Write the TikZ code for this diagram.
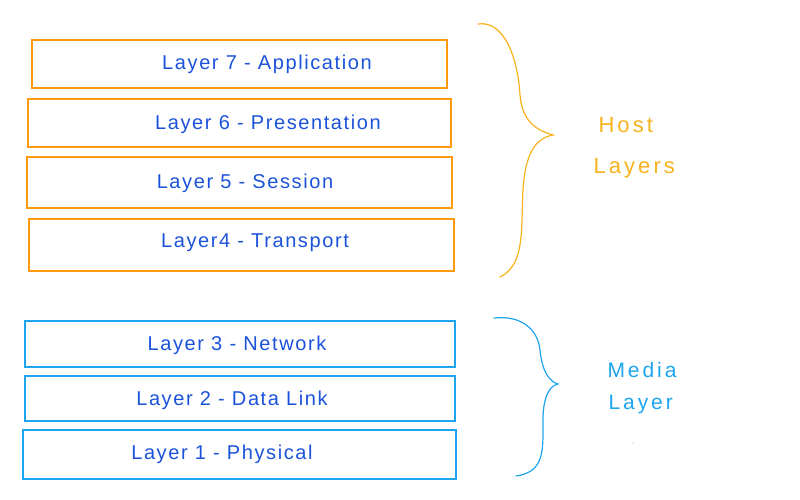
\documentclass[tikz,border=0pt]{standalone}
\usepackage{fontspec}
\setmainfont{Liberation Sans}
\newfontfamily\handfont[LetterSpace=8]{Liberation Sans}
\newfontfamily\sidefont[LetterSpace=14]{Liberation Sans}
\definecolor{boxorange}{HTML}{FF9A0E}
\definecolor{braceorange}{HTML}{F7B21C}
\definecolor{boxblue}{HTML}{1EA5F0}
\definecolor{inkblue}{HTML}{1B52DA}
\begin{document}
\begin{tikzpicture}[x=1pt,y=-1pt,
  hostbox/.style={draw=boxorange,line width=1.6pt,inner sep=0pt},
  mediabox/.style={draw=boxblue,line width=1.6pt,inner sep=0pt},
  laytext/.style={text=inkblue,font=\handfont\fontsize{20}{24}\selectfont},
  hosttext/.style={text=braceorange,font=\sidefont\fontsize{22}{26}\selectfont,align=left},
  mediatext/.style={text=boxblue,font=\sidefont\fontsize{21}{25}\selectfont,align=left},
  brace/.style={line width=1.2pt,line cap=round}]
\useasboundingbox (0,0) rectangle (800,500);
% host boxes
\node[hostbox,minimum width=415pt,minimum height=48pt] (b7) at (239.5,64) {};
\node[hostbox,minimum width=423pt,minimum height=48pt] (b6) at (239.5,123) {};
\node[hostbox,minimum width=425pt,minimum height=51pt] (b5) at (239.5,182.5) {};
\node[hostbox,minimum width=425pt,minimum height=52pt] (b4) at (241.5,245) {};
% media boxes
\node[mediabox,minimum width=430pt,minimum height=46pt] (b3) at (240,344) {};
\node[mediabox,minimum width=430pt,minimum height=45pt] (b2) at (240,398.5) {};
\node[mediabox,minimum width=433pt,minimum height=49pt] (b1) at (239.5,454.5) {};
% labels
\node[laytext] (t7) at (267,64) {Layer 7 - Application};
\node[laytext] (t6) at (268,124) {Layer 6 - Presentation};
\node[laytext] (t5) at (245,183) {Layer 5 -  Session};
\node[laytext] (t4) at (255,243) {Layer4 - Transport};
\node[laytext] (t3) at (237,345) {Layer 3 - Network};
\node[laytext] (t2) at (232,400) {Layer 2 - Data Link};
\node[laytext] (t1) at (222,454) {Layer 1 - Physical};
% braces
\coordinate (h1) at (478,24);
\coordinate (hm) at (553,135);
\coordinate (h2) at (500,277);
\draw[brace,braceorange] (h1) .. controls (505,20) and (518,60) .. (520,95)
  .. controls (522,120) and (535,130) .. (hm)
  .. controls (535,138) and (525,155) .. (523,190)
  .. controls (521,230) and (525,265) .. (h2);
\coordinate (m1) at (494,318);
\coordinate (mm) at (558,384);
\coordinate (m2) at (516,476);
\draw[brace,boxblue] (m1) .. controls (522,315) and (538,330) .. (540,350)
  .. controls (542,372) and (550,382) .. (mm)
  .. controls (548,386) and (543,400) .. (543,420)
  .. controls (543,450) and (545,472) .. (m2);
\node[hosttext,anchor=west] (host) at (595,125) {Host};
\node[hosttext,anchor=west] (hostl) at (590,168) {Layers};
\node[mediatext,anchor=west] (media) at (604,370) {Media};
\node[mediatext,anchor=west] (medial) at (605,404) {Layer};
\fill[gray!60] (633,443) circle (0.6pt);
\end{tikzpicture}
\end{document}
